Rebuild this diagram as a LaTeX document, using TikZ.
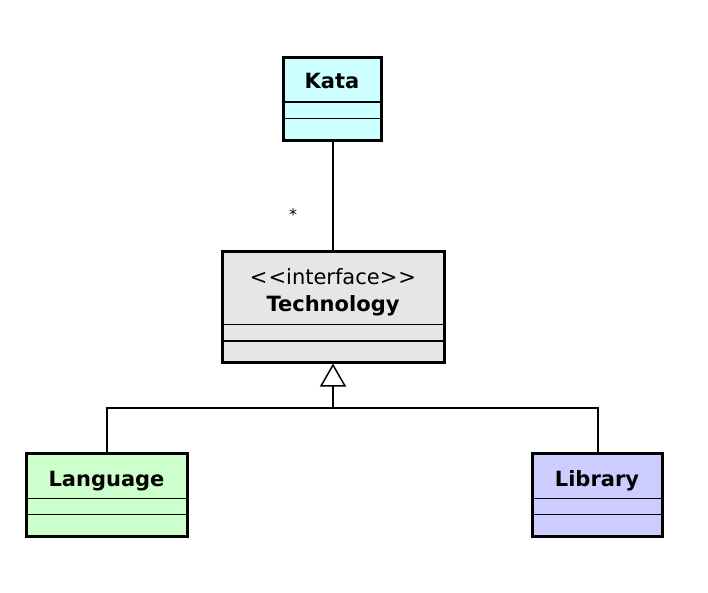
\documentclass[tikz,border=0pt]{standalone}
\usepackage{fontspec}
\setmainfont{DejaVu Sans}
\usetikzlibrary{arrows.meta}
\definecolor{kataC}{HTML}{CCFFFF}
\definecolor{techC}{HTML}{E6E6E6}
\definecolor{langC}{HTML}{CCFFCC}
\definecolor{libC}{HTML}{CCCCFF}
\tikzset{
  classbox/.style={draw=black, line width=3pt, anchor=north west, inner sep=0pt, outer sep=0pt},
  divider/.style={line width=1.5pt},
  conn/.style={line width=1.5pt},
  bold/.style={font=\fontsize{21}{25}\selectfont\bfseries, inner sep=0pt, anchor=base},
  reg/.style={font=\fontsize{21}{25}\selectfont, inner sep=0pt, anchor=base},
}
\begin{document}
\begin{tikzpicture}[x=1pt,y=-1pt]
\useasboundingbox (0,0) rectangle (708,592);
% Kata
\node[classbox, fill=kataC, minimum width=98pt, minimum height=83pt] (kata) at (283,57) {};
\node[bold] (kataT) at (332,88) {Kata};
\draw[divider] (283,102) -- (381,102);
\draw[divider] (283,118.5) -- (381,118.5);
% Technology
\node[classbox, fill=techC, minimum width=222pt, minimum height=111pt] (tech) at (222,251) {};
\node[reg] (techS) at (333,284) {\mbox{<}\kern1pt\mbox{<}interface\mbox{>}\kern1pt\mbox{>}};
\node[bold] (techT) at (333,311) {Technology};
\draw[divider] (222,324.5) -- (444,324.5);
\draw[divider] (222,341) -- (444,341);
% Language
\node[classbox, fill=langC, minimum width=161pt, minimum height=83pt] (lang) at (26,453) {};
\node[bold] (langT) at (106.5,486) {Language};
\draw[divider] (26,498.5) -- (187,498.5);
\draw[divider] (26,514.5) -- (187,514.5);
% Library
\node[classbox, fill=libC, minimum width=130pt, minimum height=83pt] (lib) at (532,453) {};
\node[bold] (libT) at (597,486) {Library};
\draw[divider] (532,498.5) -- (662,498.5);
\draw[divider] (532,514.5) -- (662,514.5);
% connectors
\draw[conn] (kata.south -| 333,0) -- (tech.north -| 333,0);
\node[font=\fontsize{16}{18}\selectfont, inner sep=0pt] (mult) at (293,215) {*};
\coordinate (join) at (333,408);
\coordinate (langTop) at (107,453);
\coordinate (libTop) at (598,453);
\draw[conn] (langTop) |- (join) -| (libTop);
\draw[conn, -{Triangle[open, length=23pt, width=26pt, line width=1.5pt]}] (join) -- (333,363.5);
\end{tikzpicture}
\end{document}
